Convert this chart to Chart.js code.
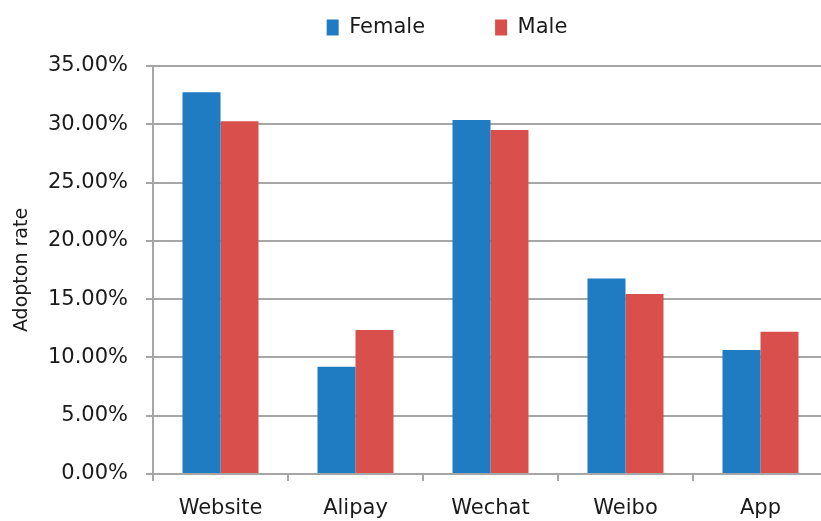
<!DOCTYPE html>
<html>
<head>
<meta charset="utf-8">
<script src="https://cdn.jsdelivr.net/npm/chart.js@4"></script>
<style>
  html, body { margin: 0; padding: 0; background: #fff; overflow: hidden; }
  #wrap { width: 828px; height: 521px; }
</style>
</head>
<body>
<div id="wrap"><canvas id="chart"></canvas></div>
<script>
// ── Data (percent) ─────────────────────────────────────────────────────────
const categories = ['Website', 'Alipay', 'Wechat', 'Weibo', 'App'];
const female = [32.74, 9.2, 30.36, 16.78, 10.63];
const male   = [30.27, 12.35, 29.5, 15.44, 12.2];

// ── Style ──────────────────────────────────────────────────────────────────
const FONT = { family: "'DejaVu Sans', sans-serif", size: 21 };
const TEXT = '#1a1a1a';
const GRID = '#a6a6a6';
const LEGEND_GAP = 70;

// fix chart area + nudge the legend to match the reference
const layoutFix = {
  id: 'layoutFix',
  beforeInit(chart) {
    const lg = chart.legend;
    const fit = lg.fit;
    lg.fit = function () { fit.call(this); this.height = 66; };
    lg.draw = function () {
      if (!this.options.display) return;
      const ctx = this.ctx;
      ctx.save();
      ctx.translate(33, 17 - LEGEND_GAP);
      this._draw();
      ctx.restore();
    };
  },
};

new Chart(document.getElementById('chart'), {
  type: 'bar',
  data: {
    labels: categories,
    datasets: [
      { label: 'Female', data: female, backgroundColor: '#1f7bc2' },
      { label: 'Male', data: male, backgroundColor: '#d94f4b' },
    ],
  },
  options: {
    responsive: true,
    maintainAspectRatio: false,
    animation: false,
    layout: { padding: 0 },
    datasets: { bar: { categoryPercentage: 0.563, barPercentage: 1.0 } },
    plugins: {
      tooltip: { enabled: false },
      legend: {
        labels: { color: TEXT, font: FONT, boxWidth: 12, boxHeight: 16, padding: LEGEND_GAP },
      },
    },
    scales: {
      x: {
        afterFit: (s) => { s.height = 47; },
        grid: { offset: true, drawOnChartArea: false, color: GRID, lineWidth: 2, tickLength: 7 },
        border: { color: GRID, width: 2 },
        ticks: { color: TEXT, font: FONT, padding: 15 },
      },
      y: {
        min: 0,
        max: 35,
        afterFit: (s) => { s.width = 153; },
        grid: { color: GRID, lineWidth: 2, tickLength: 7 },
        border: { color: GRID, width: 2 },
        ticks: {
          stepSize: 5,
          color: TEXT,
          font: FONT,
          padding: 18,
          callback: (v) => v.toFixed(2) + '%',
        },
        title: { display: true, text: 'Adopton rate', color: TEXT, font: { family: FONT.family, size: 19 }, padding: { top: 11, bottom: 0 } },
      },
    },
  },
  plugins: [layoutFix],
});
</script>
</body>
</html>
